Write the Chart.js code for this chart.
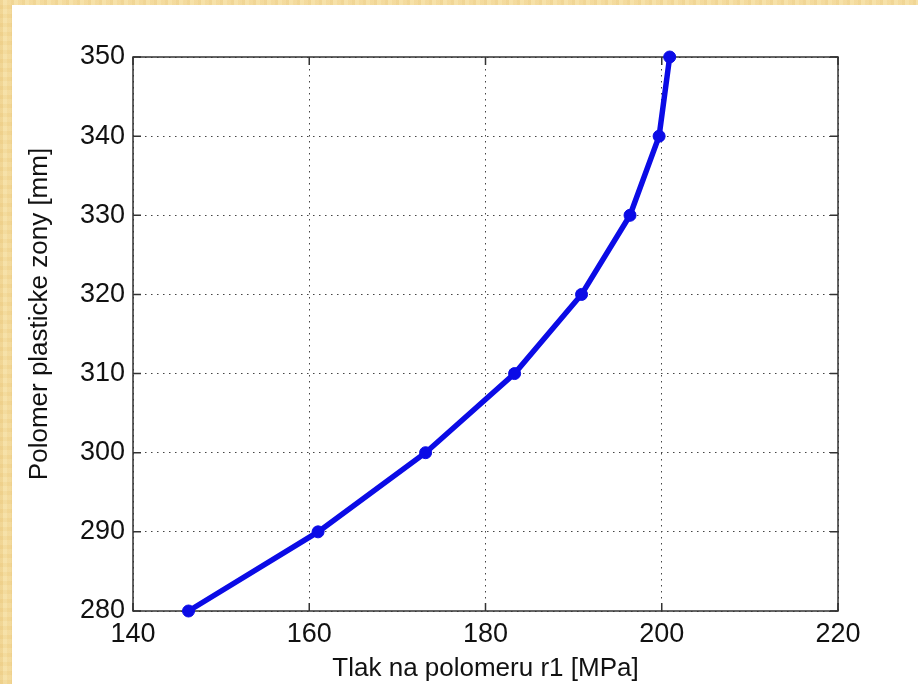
<!DOCTYPE html>
<html>
<head>
<meta charset="utf-8">
<script src="https://cdn.jsdelivr.net/npm/chart.js@4/dist/chart.umd.min.js"></script>
<style>
  html, body { margin: 0; padding: 0; }
  body {
    width: 918px; height: 684px; overflow: hidden; position: relative;
    background:
      repeating-linear-gradient(90deg, rgba(232,196,120,0.35) 0 3px, rgba(250,232,180,0.25) 3px 7px, rgba(240,208,140,0.3) 7px 11px),
      repeating-linear-gradient(0deg, rgba(236,204,130,0.3) 0 4px, rgba(250,236,190,0.2) 4px 9px),
      #f4dc9e;
  }
  #sheet {
    position: absolute; left: 12px; top: 5px; width: 906px; height: 679px;
    background: #ffffff;
  }
  canvas { display: block; }
</style>
</head>
<body>
<div id="sheet"><canvas id="plot" width="906" height="679"></canvas></div>
<script>
// Pressure at radius r1 [MPa] vs. radius of the plastic zone [mm]
const pressure = [146.3, 161.0, 173.2, 183.3, 190.9, 196.4, 199.7, 200.9];
const zoneRadius = [280, 290, 300, 310, 320, 330, 340, 350];
const xTicks = [140, 160, 180, 200, 220];
const yTicks = [280, 290, 300, 310, 320, 330, 340, 350];
const xTitle = 'Tlak na polomeru r1 [MPa]';
const yTitle = 'Polomer plasticke zony [mm]';

const FONT = "'Liberation Sans', Arial, sans-serif";
const points = pressure.map((p, i) => ({ x: p, y: zoneRadius[i] }));

// Axes box, inward tick marks and the rotated y-axis title
const frame = {
  id: 'frame',
  beforeDatasetsDraw(chart) {
    const { ctx, chartArea: a, scales } = chart;
    const len = 8;
    ctx.save();
    ctx.strokeStyle = '#333333';
    ctx.lineWidth = 1.5;
    ctx.strokeRect(a.left, a.top, a.right - a.left, a.bottom - a.top);
    ctx.beginPath();
    xTicks.forEach(v => {
      const px = scales.x.getPixelForValue(v);
      ctx.moveTo(px, a.bottom); ctx.lineTo(px, a.bottom - len);
      ctx.moveTo(px, a.top); ctx.lineTo(px, a.top + len);
    });
    yTicks.forEach(v => {
      const py = scales.y.getPixelForValue(v);
      ctx.moveTo(a.left, py); ctx.lineTo(a.left + len, py);
      ctx.moveTo(a.right, py); ctx.lineTo(a.right - len, py);
    });
    ctx.stroke();
    ctx.fillStyle = '#111111';
    ctx.font = '26px ' + FONT;
    ctx.textAlign = 'center';
    ctx.textBaseline = 'middle';
    ctx.translate(28, 309);
    ctx.rotate(-Math.PI / 2);
    ctx.fillText(yTitle, 0, 0);
    ctx.restore();
  }
};

new Chart(document.getElementById('plot'), {
  type: 'line',
  data: {
    datasets: [{
      data: points,
      borderColor: '#0b0be6',
      backgroundColor: '#0b0be6',
      borderWidth: 5.5,
      pointRadius: 6,
      pointBorderWidth: 1,
      pointStyle: 'circle',
      tension: 0,
      fill: false,
      clip: false
    }]
  },
  options: {
    responsive: false,
    animation: false,
    events: [],
    layout: { padding: { top: 52, right: 80, left: 0, bottom: 0 } },
    plugins: { legend: { display: false }, tooltip: { enabled: false } },
    scales: {
      x: {
        type: 'linear',
        min: 140, max: 220,
        afterBuildTicks: s => { s.ticks = xTicks.map(v => ({ value: v })); },
        afterFit: s => { s.height = 73; },
        border: { display: false, dash: [1.5, 4.5] },
        grid: { color: '#444444', lineWidth: 1, drawTicks: false },
        ticks: { color: '#111111', font: { family: FONT, size: 27 }, padding: 7, maxRotation: 0 },
        title: { display: true, text: xTitle, color: '#111111', font: { family: FONT, size: 26 }, padding: { top: 4, bottom: 0 } }
      },
      y: {
        type: 'linear',
        min: 280, max: 350,
        afterBuildTicks: s => { s.ticks = yTicks.map(v => ({ value: v })); },
        afterFit: s => { s.width = 121; },
        border: { display: false, dash: [1.5, 4.5] },
        grid: { color: '#444444', lineWidth: 1, drawTicks: false },
        ticks: { color: '#111111', font: { family: FONT, size: 27 }, padding: 8 }
      }
    }
  },
  plugins: [frame]
});
</script>
</body>
</html>
